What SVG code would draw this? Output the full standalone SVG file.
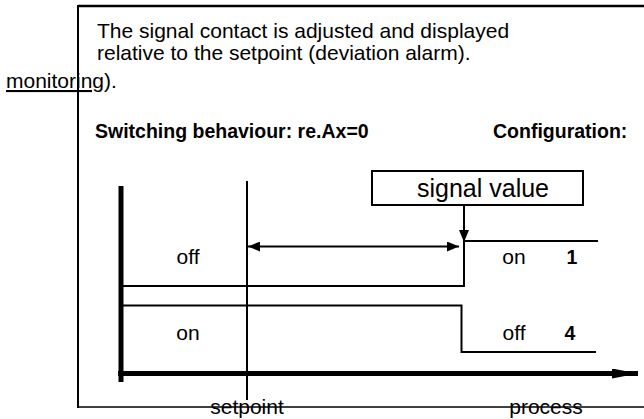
<svg xmlns="http://www.w3.org/2000/svg" width="644" height="419" viewBox="0 0 644 419">
<style>
  text { font-family: "Liberation Sans", Arial, sans-serif; fill: #000; }
  .t { font-size: 21px; }
  .b { font-size: 19.5px; font-weight: bold; }
  .ln { stroke: #000; stroke-width: 2; fill: none; }
</style>
<defs>
  <marker id="ah" viewBox="0 0 12 10" refX="12" refY="5" markerWidth="12" markerHeight="10" markerUnits="userSpaceOnUse" orient="auto-start-reverse">
    <path d="M0,0 L12,5 L0,10 Z" fill="#000"/>
  </marker>
  <marker id="big" viewBox="0 0 26 10" refX="26" refY="5" markerWidth="26" markerHeight="10" markerUnits="userSpaceOnUse" orient="auto">
    <path d="M0,0 L26,5 L0,10 Z" fill="#000"/>
  </marker>
</defs>
<g id="frame">
  <line x1="78" y1="6" x2="644" y2="6" stroke="#000" stroke-width="2.5"/>
  <line x1="78" y1="5" x2="78" y2="408" stroke="#000" stroke-width="2"/>
  <line x1="78" y1="407" x2="644" y2="407" stroke="#000" stroke-width="1.5"/>
</g>
<g id="header">
  <text class="t" x="97" y="38">The signal contact is adjusted and displayed</text>
  <text class="t" x="97" y="60">relative to the setpoint (deviation alarm).</text>
  <text class="t" x="6" y="88"><tspan text-decoration="underline">monitoring</tspan>).</text>
  <text class="b" x="95" y="138">Switching behaviour: re.Ax=0</text>
  <text class="b" x="493" y="138">Configuration:</text>
</g>
<g id="axes">
  <line x1="121" y1="186" x2="121" y2="382" stroke="#000" stroke-width="5"/>
  <line x1="118" y1="373.5" x2="638" y2="373.5" stroke="#000" stroke-width="5" marker-end="url(#big)"/>
</g>
<g id="setpoint">
  <line class="ln" x1="247" y1="181" x2="247" y2="400"/>
  <text class="t" x="247" y="414" text-anchor="middle">setpoint</text>
</g>
<g id="process">
  <text class="t" x="546" y="414" text-anchor="middle">process</text>
</g>
<g id="signal-value">
  <rect x="372" y="171" width="211" height="34" fill="#fff" stroke="#000" stroke-width="2"/>
  <text x="483" y="197" text-anchor="middle" style="font-size:25px">signal value</text>
</g>
<g id="config-1">
  <polyline class="ln" points="123,286 464,286 464,241 598,241"/>
  <text class="t" x="188" y="264" text-anchor="middle">off</text>
  <text class="t" x="514" y="264" text-anchor="middle">on</text>
  <text class="b" x="572" y="264" text-anchor="middle">1</text>
</g>
<g id="config-4">
  <polyline class="ln" points="123,305.5 461.5,305.5 461.5,352 596,352"/>
  <text class="t" x="188" y="340" text-anchor="middle">on</text>
  <text class="t" x="514" y="340" text-anchor="middle">off</text>
  <text class="b" x="570" y="340" text-anchor="middle">4</text>
</g>
<g id="connectors">
  <line class="ln" x1="248" y1="246.5" x2="459" y2="246.5" marker-start="url(#ah)" marker-end="url(#ah)"/>
  <line class="ln" x1="464" y1="205" x2="464" y2="242" marker-end="url(#ah)"/>
</g>
</svg>
